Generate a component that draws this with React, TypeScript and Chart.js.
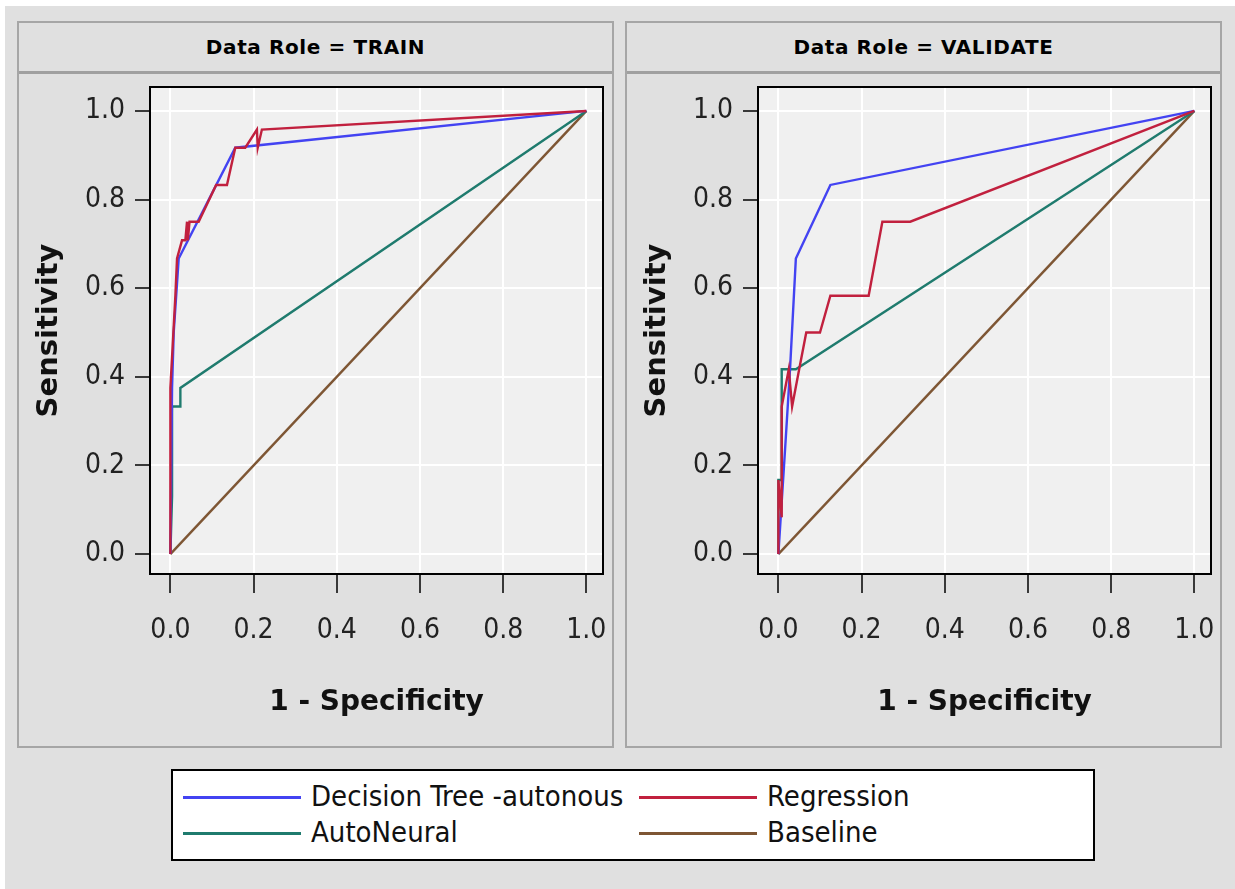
import React, { useEffect, useRef } from "react";
import { Chart, registerables } from "chart.js";

Chart.register(...registerables);

// ---------- data ----------
const seriesNames = ["Decision Tree -autonous", "Regression", "AutoNeural", "Baseline"];
const seriesColors = ["#4343f2", "#c1203e", "#1f7b6e", "#7e5634"];

const tickValues = [0, 0.2, 0.4, 0.6, 0.8, 1.0];

// TRAIN
const trainTreeX = [0, 0.004, 0.008, 0.02, 0.156, 1];
const trainTreeY = [0, 0.375, 0.5, 0.667, 0.917, 1];
const trainRegX = [0, 0, 0.012, 0.016, 0.028, 0.036, 0.04, 0.042, 0.046, 0.068, 0.11, 0.136, 0.156, 0.18, 0.208, 0.21, 0.22, 1];
const trainRegY = [0, 0.375, 0.583, 0.667, 0.708, 0.708, 0.75, 0.708, 0.75, 0.75, 0.833, 0.833, 0.917, 0.917, 0.958, 0.917, 0.958, 1];
const trainNeuralX = [0, 0.004, 0.004, 0.024, 0.024, 1];
const trainNeuralY = [0, 0.13, 0.333, 0.333, 0.375, 1];
const trainBaseX = [0, 1];
const trainBaseY = [0, 1];

// VALIDATE
const validTreeX = [0, 0.017, 0.028, 0.042, 0.125, 1];
const validTreeY = [0, 0.25, 0.417, 0.667, 0.833, 1];
const validRegX = [0, 0, 0.008, 0.008, 0.025, 0.033, 0.05, 0.067, 0.1, 0.125, 0.217, 0.25, 0.317, 1];
const validRegY = [0, 0.167, 0.083, 0.333, 0.417, 0.333, 0.417, 0.5, 0.5, 0.583, 0.583, 0.75, 0.75, 1];
const validNeuralX = [0, 0, 0.008, 0.008, 0.042, 1];
const validNeuralY = [0, 0.167, 0.167, 0.417, 0.417, 1];
const validBaseX = [0, 1];
const validBaseY = [0, 1];

const panelTitles = ["Data Role = TRAIN", "Data Role = VALIDATE"];
const xTitle = "1 - Specificity";
const yTitle = "Sensitivity";

const NARROW = "'Liberation Sans Narrow', 'DejaVu Sans Condensed', 'Liberation Sans', sans-serif";
const BOLD = "'DejaVu Sans', 'Liberation Sans', sans-serif";

const zip = (xs: number[], ys: number[]) => xs.map((x, i) => ({ x, y: ys[i] }));

const framePlugin = {
  id: "frameBg",
  beforeDraw(chart: any) {
    const { ctx, chartArea } = chart;
    ctx.save();
    ctx.fillStyle = "#f0f0f0";
    ctx.fillRect(chartArea.left, chartArea.top, chartArea.right - chartArea.left, chartArea.bottom - chartArea.top);
    ctx.restore();
  },
  afterDraw(chart: any) {
    const { ctx, chartArea } = chart;
    ctx.save();
    ctx.strokeStyle = "#000";
    ctx.lineWidth = 2;
    ctx.strokeRect(chartArea.left, chartArea.top, chartArea.right - chartArea.left, chartArea.bottom - chartArea.top);
    ctx.restore();
  },
};

const CANVAS_W = 592;
const CANVAS_H = 671;

function RocChart({ series }: { series: { x: number[]; y: number[] }[] }) {
  const ref = useRef<HTMLCanvasElement>(null);
  useEffect(() => {
    if (!ref.current) return;
    const orders = [2, 1, 3, 4];
    const chart = new Chart(ref.current, {
      type: "line",
      data: {
        datasets: series.map((s, i) => ({
          label: seriesNames[i],
          data: zip(s.x, s.y),
          borderColor: seriesColors[i],
          backgroundColor: seriesColors[i],
          borderWidth: 2.4,
          pointRadius: 0,
          tension: 0,
          fill: false,
          order: orders[i],
        })),
      },
      options: {
        animation: false,
        responsive: false,
        maintainAspectRatio: false,
        layout: { padding: { top: 13, right: 9, left: 0, bottom: 0 } },
        plugins: { legend: { display: false }, tooltip: { enabled: false } },
        scales: {
          x: {
            type: "linear",
            min: -0.049,
            max: 1.04,
            afterFit: (s: any) => {
              s.height = 171;
              s.paddingLeft = 0;
              s.paddingRight = 0;
              s.paddingTop = 0;
              s.paddingBottom = 0;
            },
            afterBuildTicks: (s: any) => { s.ticks = tickValues.map((v) => ({ value: v })); },
            grid: { color: "#ffffff", lineWidth: 2, tickColor: "#000", tickWidth: 1.5, tickLength: 19, drawTicks: true },
            border: { display: false },
            ticks: {
              color: "#222",
              padding: 21,
              maxRotation: 0,
              font: { family: NARROW, size: 28 },
              callback: (v: any) => Number(v).toFixed(1),
            },
            title: {
              display: true,
              text: xTitle,
              color: "#111",
              font: { family: BOLD, size: 28, weight: "bold" },
              padding: { top: 0, bottom: 25 },
            },
          },
          y: {
            type: "linear",
            min: -0.045,
            max: 1.054,
            afterFit: (s: any) => {
              s.width = 130;
              s.paddingLeft = 0;
              s.paddingRight = 0;
              s.paddingTop = 0;
              s.paddingBottom = 0;
            },
            afterBuildTicks: (s: any) => { s.ticks = tickValues.map((v) => ({ value: v })); },
            grid: { color: "#ffffff", lineWidth: 2, tickColor: "#000", tickWidth: 1.5, tickLength: 15, drawTicks: true },
            border: { display: false },
            ticks: {
              color: "#222",
              padding: 10,
              font: { family: NARROW, size: 28 },
              callback: (v: any) => Number(v).toFixed(1),
            },
            title: {
              display: true,
              text: yTitle,
              color: "#111",
              font: { family: BOLD, size: 29, weight: "bold" },
              padding: { top: 12, bottom: 0 },
            },
          },
        },
      },
      plugins: [framePlugin],
    } as any);
    return () => chart.destroy();
  }, [series]);
  return <canvas ref={ref} width={CANVAS_W} height={CANVAS_H} style={{ width: CANVAS_W, height: CANVAS_H, display: "block" }} />;
}

const trainSeries = [
  { x: trainTreeX, y: trainTreeY },
  { x: trainRegX, y: trainRegY },
  { x: trainNeuralX, y: trainNeuralY },
  { x: trainBaseX, y: trainBaseY },
];
const validSeries = [
  { x: validTreeX, y: validTreeY },
  { x: validRegX, y: validRegY },
  { x: validNeuralX, y: validNeuralY },
  { x: validBaseX, y: validBaseY },
];

function Panel({ left, title, series }: { left: number; title: string; series: any[] }) {
  return (
    <>
      <div
        style={{
          position: "absolute",
          left,
          top: 21,
          width: 597,
          height: 727,
          boxSizing: "border-box",
          border: "2px solid #a6a6a6",
        }}
      />
      <div
        style={{
          position: "absolute",
          left: left + 2,
          top: 23,
          width: 593,
          height: 51,
          boxSizing: "border-box",
          borderBottom: "3px solid #a0a0a0",
          display: "flex",
          alignItems: "center",
          justifyContent: "center",
          font: `bold 20px ${BOLD}`,
          color: "#000",
          letterSpacing: "0.6px",
        }}
      >
        {title}
      </div>
      <div style={{ position: "absolute", left: left + 3, top: 74 }}>
        <RocChart series={series} />
      </div>
    </>
  );
}

function LegendItem({ left, top, idx }: { left: number; top: number; idx: number }) {
  return (
    <>
      <div
        style={{
          position: "absolute",
          left,
          top: top - 1.5,
          width: 118,
          height: 3,
          background: seriesColors[idx],
        }}
      />
      <div
        style={{
          position: "absolute",
          left: left + 128,
          top: top - 18,
          height: 36,
          lineHeight: "36px",
          font: `29px ${NARROW}`,
          color: "#111",
          whiteSpace: "nowrap",
        }}
      >
        {seriesNames[idx]}
      </div>
    </>
  );
}

export default function App() {
  return (
    <div
      style={{
        position: "fixed",
        left: 0,
        top: 0,
        width: 1235,
        height: 889,
        background: "#ffffff",
        overflow: "hidden",
      }}
    >
      <div style={{ position: "absolute", left: 5, top: 6, width: 1230, height: 883, background: "#e0e0e0" }} />
      <Panel left={17} title={panelTitles[0]} series={trainSeries} />
      <Panel left={625} title={panelTitles[1]} series={validSeries} />
      <div
        style={{
          position: "absolute",
          left: 171,
          top: 769,
          width: 924,
          height: 92,
          boxSizing: "border-box",
          border: "2px solid #000",
          background: "#ffffff",
        }}
      />
      <LegendItem left={183} top={797} idx={0} />
      <LegendItem left={639} top={797} idx={1} />
      <LegendItem left={183} top={833} idx={2} />
      <LegendItem left={639} top={833} idx={3} />
    </div>
  );
}
